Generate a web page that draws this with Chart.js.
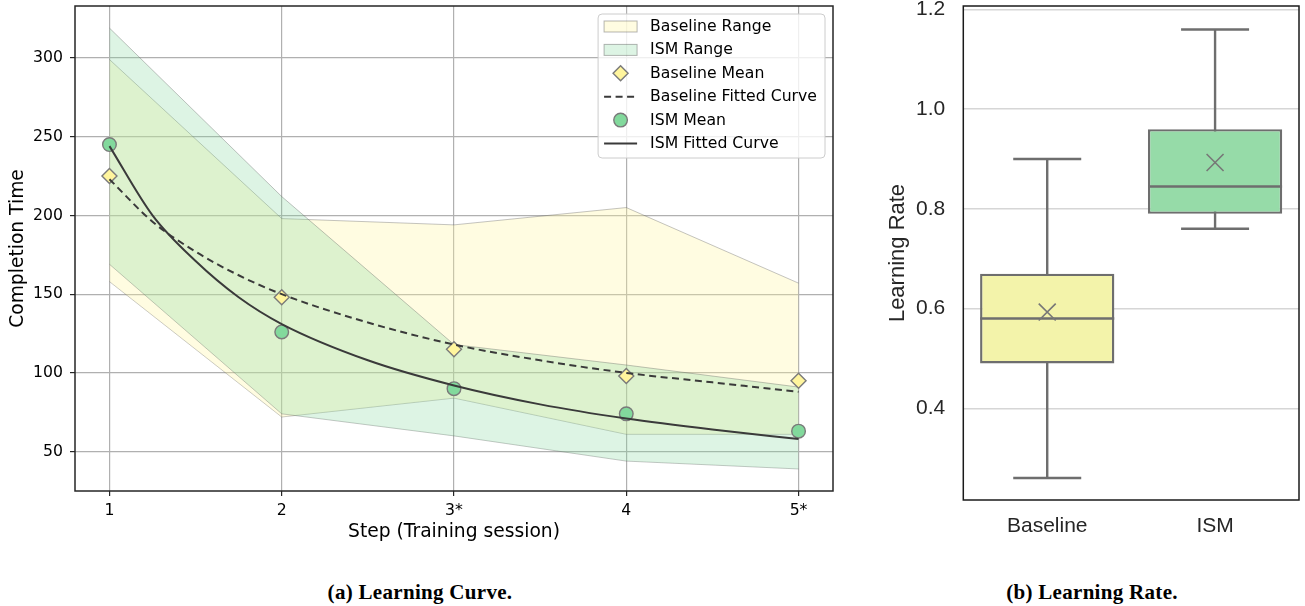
<!DOCTYPE html>
<html>

<head>
    <meta charset="UTF-8">
    <title>Learning Curve and Learning Rate</title>
    <script src="https://cdn.jsdelivr.net/npm/chart.js@4.4.1/dist/chart.umd.min.js"></script>
    <style>
        body { margin: 0; background: #fff; }
        #page { position: relative; width: 1305px; height: 606px; overflow: hidden; }
        canvas { position: absolute; top: 0; }
        .caption {
            position: absolute; top: 580px; transform: translateX(-50%);
            font: bold 21px "Liberation Serif", serif; line-height: 24px;
            letter-spacing: 0.3px; white-space: nowrap; color: #000;
        }
    </style>
</head>

<body>
    <div id="page">
        <canvas id="curve" width="845" height="547" style="left: 0;"></canvas>
        <canvas id="rate" width="445" height="560" style="left: 860px;"></canvas>
        <div class="caption" style="left: 420px;">(a) Learning Curve.</div>
        <div class="caption" style="left: 1092px;">(b) Learning Rate.</div>
    </div>
    <script>
        // (a) learning curve
        const steps = [1, 2, 3, 4, 5];
        const stepLabels = ['1', '2', '3*', '4', '5*'];
        const baselineMax = [299, 198, 194, 205, 157];
        const baselineMin = [158, 72, 84, 61, 61];
        const ismMax = [319, 212, 118, 105, 91];
        const ismMin = [169, 74, 60, 44, 39];
        const baselineMean = [225, 148, 115, 98, 95];
        const ismMean = [245, 126, 90, 74, 63];
        const fitSteps = [1, 1.25, 1.5, 1.75, 2, 2.5, 3, 3.5, 4, 4.5, 5];
        const baselineFit = [223, 196, 177, 162, 150, 132, 118, 108, 100, 94, 88];
        const ismFit = [244, 200, 171, 148, 131, 108, 92, 80, 71, 64, 58];
        const curveYTicks = [50, 100, 150, 200, 250, 300];

        // (b) learning rate box plot
        const groups = ['Baseline', 'ISM'];
        const whiskerLow = [0.26, 0.76];
        const q1 = [0.49, 0.79];
        const median = [0.58, 0.845];
        const q3 = [0.67, 0.96];
        const whiskerHigh = [0.90, 1.16];
        const means = [0.593, 0.893];
        const rateYTicks = [0.4, 0.6, 0.8, 1.0, 1.2];

        const pts = (xs, ys) => xs.map((x, i) => ({ x: x, y: ys[i] }));

        // keep the plot area where the axes put it, no label overhang padding
        const noOverhang = s => {
            s.paddingTop = 0; s.paddingBottom = 0; s.paddingLeft = 0; s.paddingRight = 0;
        };

        // frame around the plot area (all four spines)
        const frame = {
            id: 'frame',
            afterDraw(chart, args, opts) {
                const a = chart.chartArea, ctx = chart.ctx;
                ctx.save();
                ctx.strokeStyle = opts.color;
                ctx.lineWidth = opts.width;
                ctx.strokeRect(a.left, a.top, a.right - a.left, a.bottom - a.top);
                ctx.restore();
            }
        };

        // matplotlib-like legend inside the plot, top right
        const boxLegend = {
            id: 'boxLegend',
            afterDraw(chart) {
                const ctx = chart.ctx, a = chart.chartArea;
                const items = chart.data.datasets.filter(d => d.label);
                ctx.save();
                ctx.font = '15.7px "DejaVu Sans"';
                const textW = Math.max(...items.map(d => ctx.measureText(d.label).width));
                const rowH = 23.4;
                const w = 52 + textW + 8, h = 12.5 + rowH * (items.length - 1) + 14.5;
                const right = a.right - 8, top = a.top + 8, left = right - w;
                ctx.beginPath();
                ctx.roundRect(left, top, w, h, 4);
                ctx.fillStyle = 'rgba(255,255,255,0.8)';
                ctx.fill();
                ctx.strokeStyle = '#cccccc';
                ctx.lineWidth = 1;
                ctx.stroke();
                items.forEach((d, i) => {
                    const cy = top + 12.5 + i * rowH;
                    const hx = left + 6, hw = 33, cx = hx + hw / 2;
                    if (d.fill) {
                        ctx.fillStyle = d.backgroundColor;
                        ctx.fillRect(hx, cy - 5.5, hw, 11);
                        ctx.strokeStyle = d.borderColor;
                        ctx.lineWidth = 1;
                        ctx.strokeRect(hx, cy - 5.5, hw, 11);
                    } else if (d.showLine === false) {
                        ctx.fillStyle = d.pointBackgroundColor;
                        ctx.strokeStyle = d.pointBorderColor;
                        ctx.lineWidth = d.pointBorderWidth;
                        ctx.beginPath();
                        if (d.pointStyle === 'circle') {
                            ctx.arc(cx, cy, d.pointRadius, 0, Math.PI * 2);
                        } else {
                            const r = d.pointRadius;
                            ctx.moveTo(cx - r, cy); ctx.lineTo(cx, cy - r);
                            ctx.lineTo(cx + r, cy); ctx.lineTo(cx, cy + r); ctx.closePath();
                        }
                        ctx.fill();
                        ctx.stroke();
                    } else {
                        ctx.strokeStyle = d.borderColor;
                        ctx.lineWidth = d.borderWidth;
                        ctx.setLineDash(d.borderDash || []);
                        ctx.beginPath();
                        ctx.moveTo(hx, cy); ctx.lineTo(hx + hw, cy);
                        ctx.stroke();
                        ctx.setLineDash([]);
                    }
                    ctx.fillStyle = '#000';
                    ctx.textBaseline = 'middle';
                    ctx.fillText(d.label, left + 52, cy + 0.5);
                });
                ctx.restore();
            }
        };

        const rangeEdge = 'rgba(90,90,90,0.45)';

        new Chart(document.getElementById('curve'), {
            type: 'line',
            data: {
                datasets: [{
                    label: 'Baseline Range',
                    data: pts(steps, baselineMax),
                    fill: '+1',
                    backgroundColor: 'rgba(255,245,157,0.3)',
                    borderColor: rangeEdge,
                    borderWidth: 0.8,
                    pointRadius: 0,
                    tension: 0,
                    order: 10
                }, {
                    data: pts(steps, baselineMin),
                    fill: false,
                    borderColor: rangeEdge,
                    borderWidth: 0.8,
                    pointRadius: 0,
                    order: 10
                }, {
                    label: 'ISM Range',
                    data: pts(steps, ismMax),
                    fill: '+1',
                    backgroundColor: 'rgba(129,216,154,0.27)',
                    borderColor: rangeEdge,
                    borderWidth: 0.8,
                    pointRadius: 0,
                    order: 9
                }, {
                    data: pts(steps, ismMin),
                    fill: false,
                    borderColor: rangeEdge,
                    borderWidth: 0.8,
                    pointRadius: 0,
                    order: 9
                }, {
                    label: 'Baseline Mean',
                    data: pts(steps, baselineMean),
                    showLine: false,
                    pointStyle: 'rectRot',
                    pointRadius: 7.5,
                    pointBackgroundColor: '#fff59d',
                    pointBorderColor: '#7a7a7a',
                    pointBorderWidth: 1.4,
                    order: 3
                }, {
                    label: 'Baseline Fitted Curve',
                    data: pts(fitSteps, baselineFit),
                    borderColor: '#3a3a3a',
                    borderWidth: 2,
                    borderDash: [7, 4.5],
                    pointRadius: 0,
                    cubicInterpolationMode: 'monotone',
                    order: 1
                }, {
                    label: 'ISM Mean',
                    data: pts(steps, ismMean),
                    showLine: false,
                    pointStyle: 'circle',
                    pointRadius: 6.8,
                    pointBackgroundColor: '#82d99c',
                    pointBorderColor: '#7a7a7a',
                    pointBorderWidth: 1.4,
                    order: 3
                }, {
                    label: 'ISM Fitted Curve',
                    data: pts(fitSteps, ismFit),
                    borderColor: '#3a3a3a',
                    borderWidth: 2,
                    pointRadius: 0,
                    cubicInterpolationMode: 'monotone',
                    order: 1
                }]
            },
            options: {
                responsive: false,
                animation: false,
                events: [],
                layout: { autoPadding: false, padding: { top: 6, right: 12, left: 0, bottom: 0 } },
                plugins: {
                    legend: { display: false },
                    tooltip: { enabled: false },
                    frame: { color: '#262626', width: 1.5 }
                },
                scales: {
                    x: {
                        type: 'linear',
                        min: 0.8,
                        max: 5.2,
                        afterBuildTicks: s => { s.ticks = steps.map(v => ({ value: v })); },
                        afterFit: s => { s.height = 56; noOverhang(s); },
                        ticks: {
                            callback: (v, i) => stepLabels[i],
                            color: '#000',
                            padding: 6,
                            maxRotation: 0,
                            font: { family: 'DejaVu Sans', size: 15.7 }
                        },
                        grid: { color: '#b0b0b0', lineWidth: 1.2, tickColor: '#262626', tickLength: 5, tickWidth: 1.2 },
                        border: { display: false },
                        title: {
                            display: true,
                            text: 'Step (Training session)',
                            color: '#000',
                            padding: { top: 0, bottom: 4 },
                            font: { family: 'DejaVu Sans', size: 18.7 }
                        }
                    },
                    y: {
                        min: 25,
                        max: 333,
                        afterBuildTicks: s => { s.ticks = curveYTicks.map(v => ({ value: v })); },
                        afterFit: s => { s.width = 75; noOverhang(s); },
                        ticks: {
                            color: '#000',
                            padding: 7,
                            font: { family: 'DejaVu Sans', size: 15.7 }
                        },
                        grid: { color: '#b0b0b0', lineWidth: 1.2, tickColor: '#262626', tickLength: 5, tickWidth: 1.2 },
                        border: { display: false },
                        title: {
                            display: true,
                            text: 'Completion Time',
                            color: '#000',
                            padding: { top: 7, bottom: 0 },
                            font: { family: 'DejaVu Sans', size: 18.7 }
                        }
                    }
                }
            },
            plugins: [frame, boxLegend]
        });

        const boxEdge = '#6e6e6e';
        const boxFill = ['#f3f3aa', '#96dba8'];
        const whiskerData = [];
        const capData = [];
        groups.forEach((g, i) => {
            whiskerData.push({ x: i, y: whiskerLow[i] }, { x: i, y: whiskerHigh[i] }, { x: i, y: null });
            capData.push({ x: i, y: whiskerLow[i] }, { x: i, y: whiskerHigh[i] });
        });

        new Chart(document.getElementById('rate'), {
            type: 'bar',
            data: {
                datasets: [{
                    type: 'scatter',
                    data: pts([0, 1], means),
                    pointStyle: 'crossRot',
                    pointRadius: 12,
                    pointBorderColor: '#777777',
                    pointBorderWidth: 1.6,
                    order: 0
                }, {
                    type: 'scatter',
                    data: pts([0, 1], median),
                    pointStyle: 'line',
                    pointRadius: 67,
                    pointBorderColor: boxEdge,
                    pointBorderWidth: 2.4,
                    order: 1
                }, {
                    data: groups.map((g, i) => ({ x: i, y: [q1[i], q3[i]] })),
                    backgroundColor: boxFill,
                    borderColor: boxEdge,
                    borderWidth: 2.4,
                    borderSkipped: false,
                    grouped: false,
                    barPercentage: 0.8,
                    categoryPercentage: 1,
                    order: 2
                }, {
                    type: 'scatter',
                    data: capData,
                    pointStyle: 'line',
                    pointRadius: 34,
                    pointBorderColor: boxEdge,
                    pointBorderWidth: 2.4,
                    order: 3
                }, {
                    type: 'line',
                    data: whiskerData,
                    borderColor: boxEdge,
                    borderWidth: 2.4,
                    pointRadius: 0,
                    spanGaps: false,
                    order: 4
                }]
            },
            options: {
                responsive: false,
                animation: false,
                events: [],
                layout: { autoPadding: false, padding: { top: 6, right: 6, left: 0, bottom: 0 } },
                plugins: {
                    legend: { display: false },
                    tooltip: { enabled: false },
                    frame: { color: '#1a1a1a', width: 1.5 }
                },
                scales: {
                    x: {
                        type: 'linear',
                        min: -0.5,
                        max: 1.5,
                        offset: false,
                        afterBuildTicks: s => { s.ticks = groups.map((g, i) => ({ value: i })); },
                        afterFit: s => { s.height = 60; noOverhang(s); },
                        ticks: {
                            callback: (v, i) => groups[i],
                            color: '#262626',
                            padding: 14,
                            maxRotation: 0,
                            font: { family: 'Liberation Sans', size: 21 }
                        },
                        grid: { display: false, drawTicks: false },
                        border: { display: false }
                    },
                    y: {
                        min: 0.216,
                        max: 1.207,
                        afterBuildTicks: s => { s.ticks = rateYTicks.map(v => ({ value: v })); },
                        afterFit: s => { s.width = 103.3; noOverhang(s); },
                        ticks: {
                            callback: v => v.toFixed(1),
                            color: '#262626',
                            padding: 18,
                            font: { family: 'Liberation Sans', size: 21 }
                        },
                        grid: { color: '#d6d6d6', lineWidth: 1.5, drawTicks: false },
                        border: { display: false },
                        title: {
                            display: true,
                            text: 'Learning Rate',
                            color: '#262626',
                            padding: { top: 25, bottom: 0 },
                            font: { family: 'Liberation Sans', size: 22 }
                        }
                    }
                }
            },
            plugins: [frame]
        });
    </script>
</body>

</html>
